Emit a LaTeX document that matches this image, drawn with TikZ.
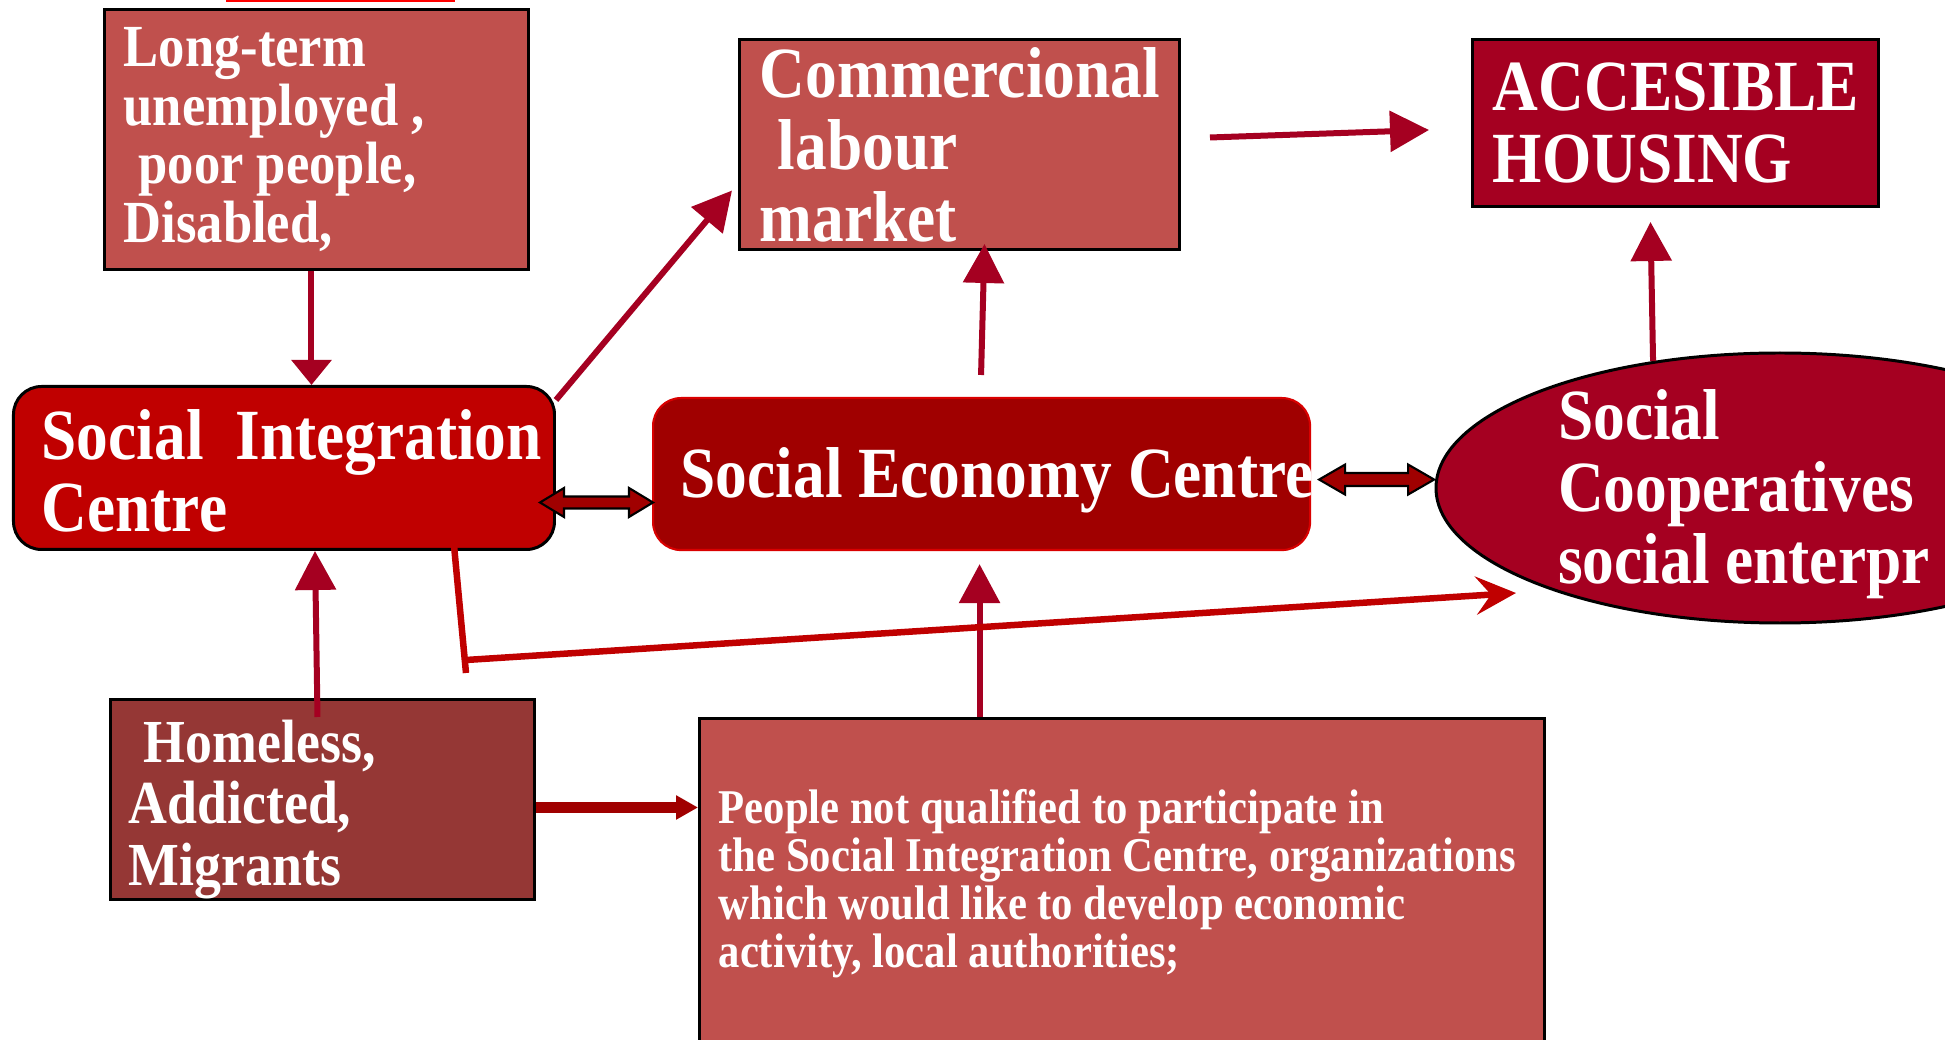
\documentclass[tikz,border=0pt]{standalone}
\usepackage{fontspec}
\setmainfont{Liberation Serif}[FakeStretch=0.88]
\usetikzlibrary{arrows.meta,positioning,shapes.geometric}

\definecolor{boxred}{HTML}{C0504D}
\definecolor{crimson}{HTML}{A50021}
\definecolor{sicred}{HTML}{C00000}
\definecolor{secred}{HTML}{A00000}
\definecolor{homered}{HTML}{953735}

\tikzset{
  box/.style={draw=black,line width=0.85pt,anchor=north west,inner sep=0pt},
  txt/.style={text=white,align=left,inner sep=0pt,anchor=west},
  bigtxt/.style={txt,font=\bfseries\fontsize{20.5}{20.5}\selectfont},
  arr/.style={crimson,line width=0.06cm,-{Triangle[length=0.39cm,width=0.40cm]}},
  blockarr/.style={fill=secred,draw=black,line width=0.6pt,line join=miter}
}

\begin{document}
\begin{tikzpicture}
  \useasboundingbox (0,0) rectangle (19.45,-10.40);
  \fill[white] (0,0) rectangle (19.45,-10.40);
  \clip (0,0) rectangle (19.45,-10.40);
  \fill[red] (2.26,0) rectangle (4.55,-0.02);

  % boxes
  \node[box,fill=boxred,minimum width=4.24cm,minimum height=2.60cm] (lt) at (1.03,-0.08) {};
  \node[box,fill=boxred,minimum width=4.40cm,minimum height=2.10cm] (comm) at (7.38,-0.38) {};
  \node[box,fill=crimson,minimum width=4.06cm,minimum height=1.67cm] (acc) at (14.71,-0.38) {};
  \node[box,fill=sicred,rounded corners=0.28cm,minimum width=5.41cm,minimum height=1.63cm] (sic) at (0.12,-3.85) {};
  \node[box,fill=secred,draw=red!85!black,line width=0.6pt,rounded corners=0.28cm,minimum width=6.57cm,minimum height=1.52cm] (sec) at (6.52,-3.97) {};
  \node[ellipse,fill=crimson,draw=black,line width=0.85pt,inner sep=0pt,minimum width=6.88cm,minimum height=2.70cm] (coop) at (17.80,-4.88) {};
  \node[box,fill=homered,minimum width=4.24cm,minimum height=2.00cm] (home) at (1.09,-6.98) {};
  \node[box,fill=boxred,minimum width=8.45cm,minimum height=3.30cm] (ppl) at (6.98,-7.17) {};

  % texts
  \node[txt,font=\bfseries\fontsize{17}{16.7}\selectfont,right=0.20cm of lt.west] (lttext)
    {Long-term\\unemployed ,\\\hspace*{0.25em}poor people,\\Disabled,};
  \node[bigtxt,right=0.21cm of comm.west] (commtext) {Commercional\\\hspace*{0.25em}labour\\market};
  \node[bigtxt,right=0.21cm of acc.west] (acctext) {ACCESIBLE\\HOUSING};
  \node[bigtxt,right=0.29cm of sic.west,yshift=-0.03cm] (sictext) {Social~~Integration\\Centre};
  \node[bigtxt,right=0.28cm of sec.west,yshift=-0.06cm] (sectext) {Social Economy Centre};
  \node[bigtxt,right=1.23cm of coop.west,yshift=-0.06cm] (cooptext) {Social\\Cooperatives\\social enterpr};
  \node[txt,font=\bfseries\fontsize{17.4}{17.5}\selectfont,right=0.19cm of home.west,yshift=-0.10cm] (hometext)
    {\hspace*{0.25em}Homeless,\\Addicted,\\Migrants};
  \node[txt,font=\bfseries\fontsize{13.8}{13.7}\selectfont,right=0.20cm of ppl.west] (ppltext)
    {People not qualified to participate in\\the Social Integration Centre, organizations\\which would like to develop economic\\activity, local authorities;};

  % arrows
  \draw[arr,-{Triangle[length=0.25cm,width=0.39cm]}] ([xshift=-0.05cm]lt.south) -- ([xshift=-0.05cm]lt.south |- sic.north);
  \draw[arr] ([yshift=-0.15cm]sic.north east) -- ([xshift=-0.06cm,yshift=-0.46cm]comm.west);
  \draw[arr] ([xshift=0.29cm,yshift=0.07cm]comm.east) -- ([xshift=-0.42cm,yshift=-0.07cm]acc.west);
  \draw[arr] ([xshift=-0.005cm,yshift=0.22cm]sec.north) -- ([xshift=0.25cm,yshift=0.07cm]comm.south);
  \draw[arr] (coop.135) -- ([xshift=-0.25cm,yshift=-0.14cm]acc.south);
  \draw[arr] ([xshift=-0.05cm,yshift=-0.19cm]home.north) -- ([xshift=0.31cm]sic.south);
  \draw[arr] ([xshift=-0.02cm]sec.south |- ppl.north) -- ([xshift=-0.02cm,yshift=-0.13cm]sec.south);
  \draw[secred,line width=0.11cm,-{Triangle[length=0.22cm,width=0.23cm]}]
    ([yshift=-0.08cm]home.east) -- ([yshift=-0.08cm]home.east -| ppl.west);

  % line from the integration centre round to the cooperatives
  \coordinate (bend) at (4.66,-6.60);
  \coordinate (cooptip) at (15.16,-5.93);
  \draw[sicred,line width=0.065cm] ([xshift=-1.04cm,yshift=0.27cm]sic.south east) -- ([yshift=-0.13cm]bend);
  \draw[sicred,line width=0.065cm,-{Stealth[length=0.40cm,width=0.38cm,inset=0.15cm]}] (bend) -- (cooptip);

  % two-way block arrows
  \draw[blockarr] ([xshift=-0.16cm,yshift=-0.345cm]sic.east) -- ++(0.24,0.145) -- ++(0,-0.085) -- ++(0.65,0)
    -- ++(0,0.085) -- ++(0.24,-0.145) -- ++(-0.24,-0.145) -- ++(0,0.085) -- ++(-0.65,0) -- ++(0,-0.085) -- cycle;
  \draw[blockarr] ([xshift=0.08cm,yshift=-0.055cm]sec.east) -- ++(0.26,0.15) -- ++(0,-0.085) -- ++(0.63,0)
    -- ++(0,0.085) -- ++(0.26,-0.15) -- ++(-0.26,-0.15) -- ++(0,0.085) -- ++(-0.63,0) -- ++(0,-0.085) -- cycle;
\end{tikzpicture}
\end{document}
